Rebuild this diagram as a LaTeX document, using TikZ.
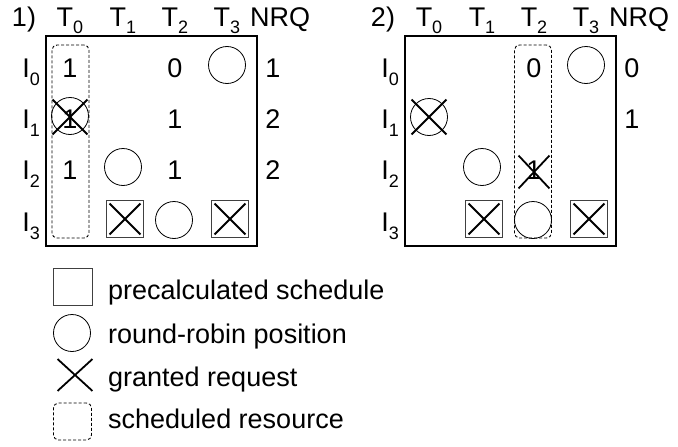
\documentclass[tikz,border=0pt]{standalone}
\usepackage{fontspec}
\setmainfont{Liberation Sans}
\usetikzlibrary{shapes.misc}
% lowered, smaller index digit
\newcommand{\tsub}[1]{\raisebox{-8pt}{\fontsize{18}{18}\selectfont #1}}

\begin{document}
\begin{tikzpicture}[x=1pt,y=-1pt,
  txt/.style={font=\fontsize{27}{30}\selectfont, inner sep=0pt, anchor=base},
  panel/.style={draw, line width=2.4pt, inner sep=0pt, minimum width=211pt, minimum height=210pt},
  rrpos/.style={draw, circle, minimum size=37pt, inner sep=0pt, line width=0.8pt},
  presched/.style={draw=black!75, minimum size=37pt, inner sep=0pt, line width=0.8pt},
  grant/.style={draw, cross out, minimum size=33pt, inner sep=0pt, line width=1.8pt},
  sqgrant/.style={grant, minimum size=29pt},
  schedres/.style={draw, dash pattern=on 3pt off 2pt, rounded corners=5pt, inner sep=0pt,
                   minimum width=37pt, minimum height=193pt, line width=0.9pt},
]
\useasboundingbox (0,0) rectangle (678,447);

% ---------- step 1 ----------
\node[panel] (a-box) at (151.5,141) {};
\node[txt] (a-hd) at (24,26) {1)};
\node[txt] (a-t0) at (70,26) {T\tsub{0}};
\node[txt] (a-t1) at (123,26) {T\tsub{1}};
\node[txt] (a-t2) at (175,26) {T\tsub{2}};
\node[txt] (a-t3) at (227,26) {T\tsub{3}};
\node[txt, anchor=base west] (a-nrq) at (250,26) {NRQ};
\node[txt, anchor=base east] (a-i0) at (40,77) {I\tsub{0}};
\node[txt, anchor=base east] (a-i1) at (40,128) {I\tsub{1}};
\node[txt, anchor=base east] (a-i2) at (40,179) {I\tsub{2}};
\node[txt, anchor=base east] (a-i3) at (40,231) {I\tsub{3}};
\node[schedres] (a-sched) at (70.5,141.5) {};
% row I0
\node[txt] (a-v00) at (70,77) {1};
\node[txt] (a-v02) at (175,77) {0};
\node[rrpos] (a-r03) at (227,65) {};
\node[txt] (a-n0) at (273,77) {1};
% row I1
\node[txt] (a-v10) at (70,128) {1};
\node[rrpos] (a-r10) at (70,116) {};
\node[grant] (a-g10) at (70,117) {};
\node[txt] (a-v12) at (175,128) {1};
\node[txt] (a-n1) at (273,128) {2};
% row I2
\node[txt] (a-v20) at (70,179) {1};
\node[rrpos] (a-r21) at (123,167) {};
\node[txt] (a-v22) at (175,179) {1};
\node[txt] (a-n2) at (273,179) {2};
% row I3
\node[presched] (a-p31) at (125,219) {};
\node[sqgrant] (a-g31) at (125,219) {};
\node[rrpos] (a-r32) at (174,220) {};
\node[presched] (a-p33) at (230,219) {};
\node[sqgrant] (a-g33) at (230,219) {};

% ---------- step 2 ----------
\begin{scope}[xshift=359pt]
\node[panel] (b-box) at (151.5,141) {};
\node[txt] (b-hd) at (24,26) {2)};
\node[txt] (b-t0) at (70,26) {T\tsub{0}};
\node[txt] (b-t1) at (123,26) {T\tsub{1}};
\node[txt] (b-t2) at (175,26) {T\tsub{2}};
\node[txt] (b-t3) at (227,26) {T\tsub{3}};
\node[txt, anchor=base west] (b-nrq) at (250,26) {NRQ};
\node[txt, anchor=base east] (b-i0) at (40,77) {I\tsub{0}};
\node[txt, anchor=base east] (b-i1) at (40,128) {I\tsub{1}};
\node[txt, anchor=base east] (b-i2) at (40,179) {I\tsub{2}};
\node[txt, anchor=base east] (b-i3) at (40,231) {I\tsub{3}};
\node[schedres] (b-sched) at (174,141.5) {};
% row I0
\node[txt] (b-v02) at (175,77) {0};
\node[rrpos] (b-r03) at (227,65) {};
\node[txt] (b-n0) at (273,77) {0};
% row I1
\node[rrpos] (b-r10) at (70,117) {};
\node[grant] (b-g10) at (70,117) {};
\node[txt] (b-n1) at (273,128) {1};
% row I2
\node[rrpos] (b-r21) at (123,167) {};
\node[txt] (b-v22) at (175,179) {1};
\node[grant, minimum width=29pt, minimum height=31pt] (b-g22) at (175,172) {};
% row I3
\node[presched] (b-p31) at (125,219) {};
\node[sqgrant] (b-g31) at (125,219) {};
\node[rrpos] (b-r32) at (174,220) {};
\node[presched] (b-p33) at (230,219) {};
\node[sqgrant] (b-g33) at (230,219) {};
\end{scope}

% ---------- legend ----------
\node[presched, minimum width=39pt] (lg-sq) at (72.5,286.5) {};
\node[txt, anchor=base west] (lg-sqt) at (108,299) {precalculated schedule};
\node[rrpos] (lg-rr) at (72,333) {};
\node[txt, anchor=base west] (lg-rrt) at (108,343) {round-robin position};
\node[grant, minimum width=33pt, minimum height=30pt] (lg-gr) at (75,375) {};
\node[txt, anchor=base west] (lg-grt) at (108,386) {granted request};
\node[schedres, minimum width=38pt, minimum height=37pt] (lg-sr) at (72.5,421.5) {};
\node[txt, anchor=base west] (lg-srt) at (108,428) {scheduled resource};
\end{tikzpicture}
\end{document}
